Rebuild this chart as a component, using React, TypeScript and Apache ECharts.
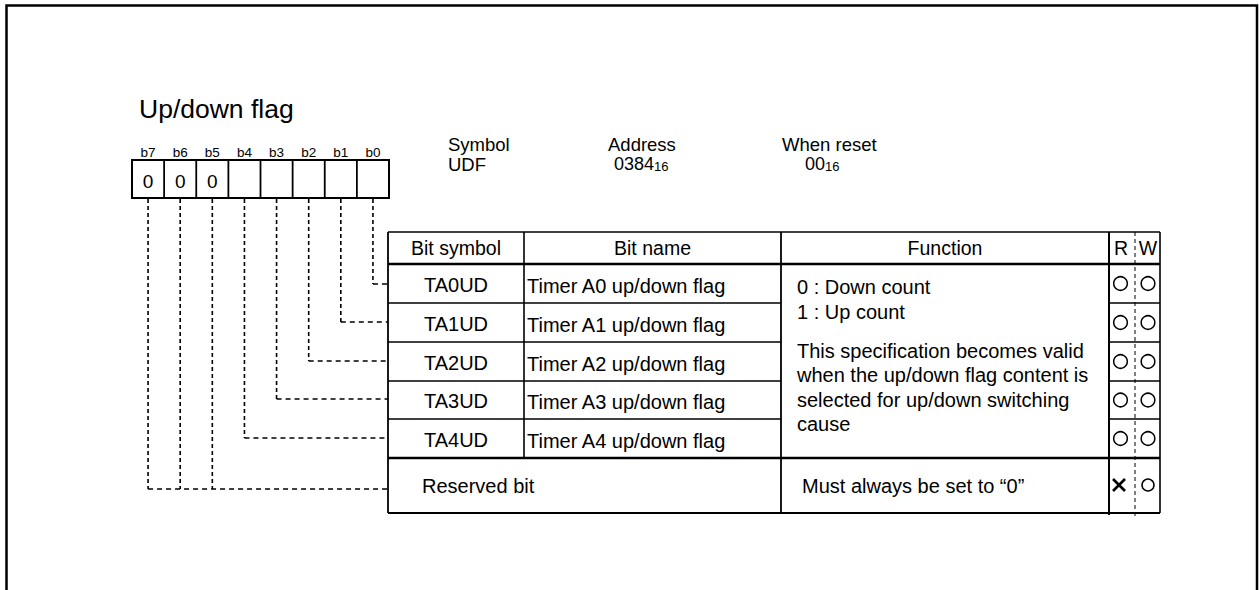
import React, { useEffect, useRef } from "react";
import * as echarts from "echarts";

// ---- content ----
const title = "Up/down flag";
const bitLabels = ["b7", "b6", "b5", "b4", "b3", "b2", "b1", "b0"];
const bitValues = ["0", "0", "0", "", "", "", "", ""];
const symbolInfo = { label: "Symbol", value: "UDF" };
const addressInfo = { label: "Address", value: "0384", sub: "16" };
const resetInfo = { label: "When reset", value: "00", sub: "16" };
const headers = ["Bit symbol", "Bit name", "Function", "R", "W"];
const bitSymbols = ["TA0UD", "TA1UD", "TA2UD", "TA3UD", "TA4UD"];
const bitNames = [
  "Timer A0 up/down flag",
  "Timer A1 up/down flag",
  "Timer A2 up/down flag",
  "Timer A3 up/down flag",
  "Timer A4 up/down flag",
];
const functionLinesA = ["0 : Down count", "1 : Up count"];
const functionLinesB = [
  "This specification becomes valid",
  "when the up/down flag content is",
  "selected for up/down switching",
  "cause",
];
const reservedLabel = "Reserved bit";
const reservedFunction = "Must always be set to \u201C0\u201D";
const readable = [true, true, true, true, true, false];
const writable = [true, true, true, true, true, true];

const FONT = '"Liberation Sans", Arial, Helvetica, sans-serif';

function measure(text: string, size: number) {
  const c = document.createElement("canvas");
  const ctx = c.getContext("2d");
  if (!ctx) return text.length * size * 0.55;
  ctx.font = `${size}px ${FONT}`;
  return ctx.measureText(text).width;
}

function txt(text: string, x: number, y: number, size: number, align = "left") {
  return {
    type: "text",
    silent: true,
    x,
    y,
    style: {
      text,
      fill: "#000",
      fontSize: size,
      fontFamily: FONT,
      align,
      verticalAlign: "middle",
    },
  };
}

function ln(x1: number, y1: number, x2: number, y2: number, w = 1.5, dash?: number[]) {
  return {
    type: "line",
    silent: true,
    shape: { x1, y1, x2, y2 },
    style: { stroke: "#000", lineWidth: w, lineDash: dash || null, fill: null },
  };
}

function buildGraphics() {
  const g: any[] = [];
  // outer frame
  g.push({
    type: "rect",
    silent: true,
    shape: { x: 6.5, y: 5.5, width: 1250.5, height: 700 },
    style: { fill: "none", stroke: "#000", lineWidth: 2.5 },
  });

  // title
  g.push(txt(title, 139, 109, 26.5));

  // bit box
  const bx0 = 132, bx1 = 389, by0 = 160, by1 = 198;
  const cw = (bx1 - bx0) / bitLabels.length;
  g.push({
    type: "rect",
    silent: true,
    shape: { x: bx0, y: by0, width: bx1 - bx0, height: by1 - by0 },
    style: { fill: "none", stroke: "#000", lineWidth: 2 },
  });
  bitLabels.forEach((lab, i) => {
    const cx = bx0 + cw * (i + 0.5);
    if (i > 0) g.push(ln(bx0 + cw * i, by0, bx0 + cw * i, by1, 1.8));
    g.push(txt(lab, cx, 152, 13.5, "center"));
    if (bitValues[i]) g.push(txt(bitValues[i], cx, 181, 19, "center"));
  });

  // symbol / address / reset
  g.push(txt(symbolInfo.label, 448, 144, 18.5));
  g.push(txt(symbolInfo.value, 448, 164, 18.5));
  g.push(txt(addressInfo.label, 608, 144, 18.5));
  g.push(txt(addressInfo.value, 614, 164, 18));
  g.push(txt(addressInfo.sub, 614 + measure(addressInfo.value, 18), 166, 13));
  g.push(txt(resetInfo.label, 782, 144, 18.5));
  g.push(txt(resetInfo.value, 805, 164, 18));
  g.push(txt(resetInfo.sub, 805 + measure(resetInfo.value, 18), 166, 13));

  // table geometry
  const X = { l: 388, c1: 524, c2: 781, r: 1109, rw: 1135, e: 1160 };
  const Y = [232, 264, 303, 342, 381, 419, 458, 513];
  // horizontals
  g.push(ln(X.l, Y[0], X.e, Y[0], 1.6));
  g.push(ln(X.l, Y[1], X.e, Y[1], 2.4));
  for (let k = 2; k <= 5; k++) {
    g.push(ln(X.l, Y[k], X.c2, Y[k], 1.6));
    g.push(ln(X.r, Y[k], X.e, Y[k], 1.6));
  }
  g.push(ln(X.l, Y[6], X.e, Y[6], 2.6));
  g.push(ln(X.l, Y[7], X.e, Y[7], 2));
  // verticals
  g.push(ln(X.l, Y[0], X.l, Y[7], 1.8));
  g.push(ln(X.c1, Y[0], X.c1, Y[6], 1.6));
  g.push(ln(X.c2, Y[0], X.c2, Y[7], 1.8));
  g.push(ln(X.r, Y[0], X.r, Y[7] + 2, 2));
  g.push(ln(X.e, Y[0], X.e, Y[7], 1.6));
  g.push(ln(X.rw, Y[0], X.rw, Y[7] + 4, 1, [4, 3]));

  // headers
  const hy = (Y[0] + Y[1]) / 2;
  g.push(txt(headers[0], (X.l + X.c1) / 2, hy, 19.5, "center"));
  g.push(txt(headers[1], (X.c1 + X.c2) / 2, hy, 19.5, "center"));
  g.push(txt(headers[2], (X.c2 + X.r) / 2, hy, 19.5, "center"));
  g.push(txt(headers[3], 1121, hy, 19.5, "center"));
  g.push(txt(headers[4], 1148, hy, 19.5, "center"));

  // rows
  bitSymbols.forEach((s, k) => {
    const cy = (Y[k + 1] + Y[k + 2]) / 2 + 1;
    g.push(txt(s, (X.l + X.c1) / 2, cy, 20, "center"));
    g.push(txt(bitNames[k], 527, cy + 1, 20));
  });
  functionLinesA.forEach((s, i) => g.push(txt(s, 797, 287 + i * 25, 20)));
  functionLinesB.forEach((s, i) => g.push(txt(s, 797, 351 + i * 24.3, 20)));
  g.push(txt(reservedLabel, 422, 486, 20));
  g.push(txt(reservedFunction, 802, 486, 20));

  // R/W marks
  const rowCy = [0, 1, 2, 3, 4].map((k) => (Y[k + 1] + Y[k + 2]) / 2);
  rowCy.push(485);
  rowCy.forEach((cy, k) => {
    const last = k === rowCy.length - 1;
    if (readable[k]) {
      g.push({
        type: "circle",
        silent: true,
        shape: { cx: 1120.5, cy, r: 6.8 },
        style: { fill: "none", stroke: "#000", lineWidth: 1.5 },
      });
    } else {
      g.push(ln(1113, cy - 6, 1125, cy + 6, 2.7));
      g.push(ln(1113, cy + 6, 1125, cy - 6, 2.7));
    }
    if (writable[k]) {
      g.push({
        type: "circle",
        silent: true,
        shape: { cx: 1148, cy, r: last ? 6 : 6.8 },
        style: { fill: "none", stroke: "#000", lineWidth: 1.5 },
      });
    }
  });

  // dashed connectors
  const targetY = [489, 489, 489, 438, 399, 361, 322, 284];
  bitLabels.forEach((_, i) => {
    const cx = bx0 + cw * (i + 0.5);
    const ty = targetY[i];
    g.push(ln(cx, by1 + 1, cx, ty, 1.6, [4, 3]));
    if (i >= 3) g.push(ln(cx, ty, X.l, ty, 1.6, [5, 4]));
  });
  const cx7 = bx0 + cw * 0.5;
  g.push(ln(cx7, 489, X.l, 489, 1.6, [5, 4]));

  return g;
}

export default function App() {
  const ref = useRef<HTMLDivElement>(null);
  useEffect(() => {
    if (!ref.current) return;
    const chart = echarts.init(ref.current, null, { renderer: "svg" });
    chart.setOption({
      animation: false,
      backgroundColor: "#fff",
      graphic: { elements: buildGraphics() },
    });
    return () => chart.dispose();
  }, []);
  return (
    <div
      ref={ref}
      style={{ position: "absolute", left: 0, top: 0, width: 1259, height: 590, background: "#fff" }}
    />
  );
}
